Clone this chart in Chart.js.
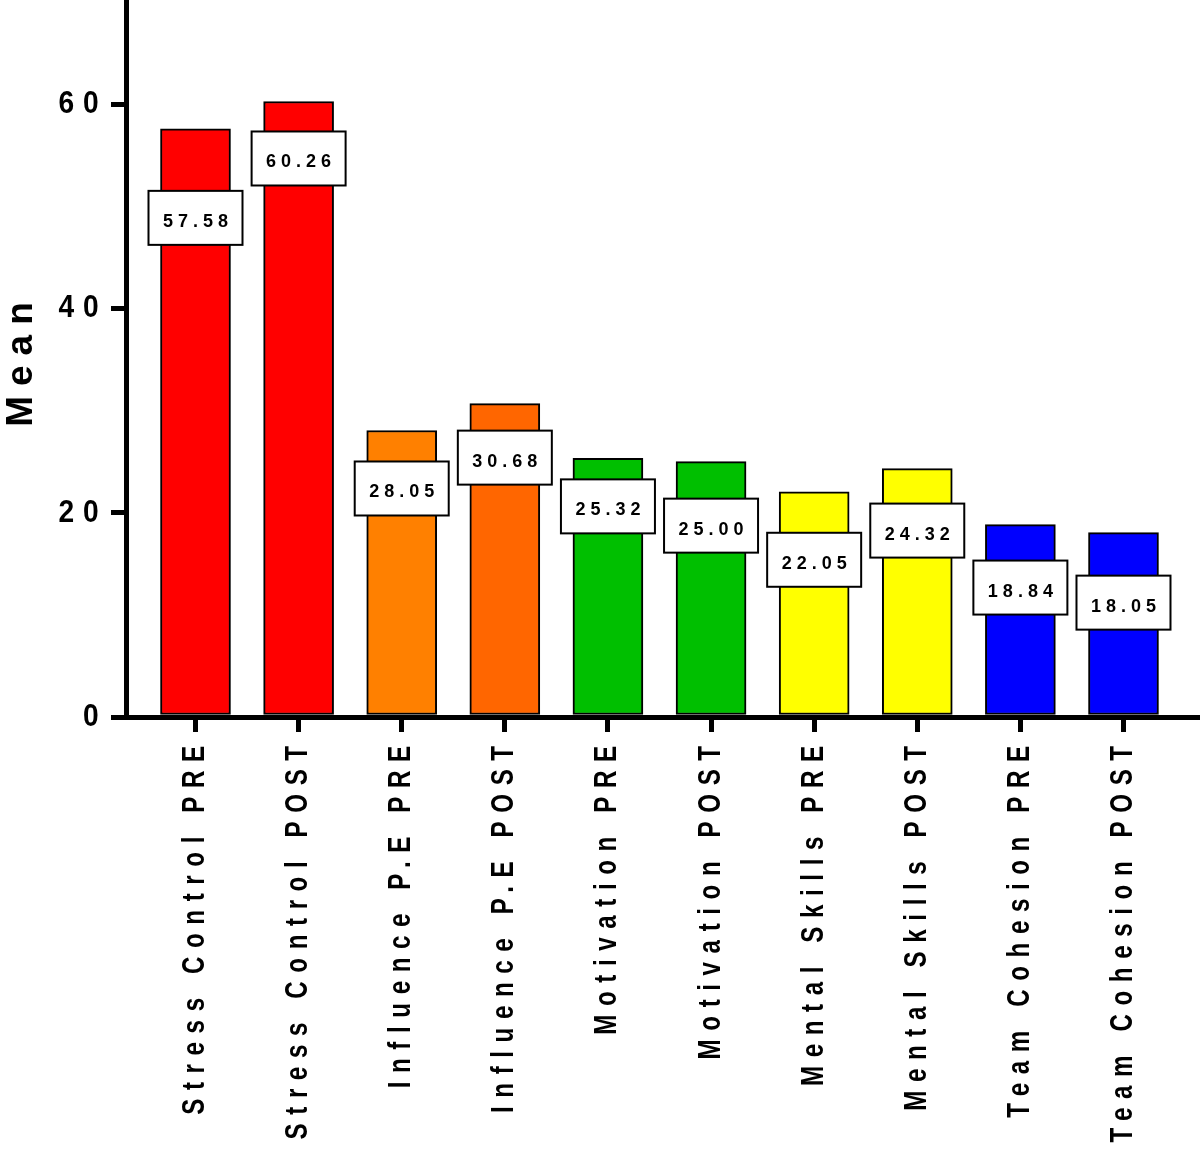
<!DOCTYPE html>
<html>
<head>
<meta charset="utf-8">
<script src="https://cdn.jsdelivr.net/npm/chart.js@4"></script>
<style>
  html, body { margin: 0; padding: 0; background: #fff; }
  #wrap { width: 1200px; height: 1163px; }
</style>
</head>
<body>
<div id="wrap"><canvas id="means"></canvas></div>
<script>
const categories = [
    'Stress Control PRE', 'Stress Control POST',
    'Influence P.E PRE', 'Influence P.E POST',
    'Motivation PRE', 'Motivation POST',
    'Mental Skills PRE', 'Mental Skills POST',
    'Team Cohesion PRE', 'Team Cohesion POST'
];
const means = [57.58, 60.26, 28.05, 30.68, 25.32, 25.00, 22.05, 24.32, 18.84, 18.05];
const valueLabels = ['57.58', '60.26', '28.05', '30.68', '25.32', '25.00', '22.05', '24.32', '18.84', '18.05'];
const yTicks = [0, 20, 40, 60];
const barColors = ['#ff0000', '#ff0000', '#ff8000', '#ff6600', '#00bf00', '#00bf00', '#ffff00', '#ffff00', '#0000ff', '#0000ff'];

// how far below each bar top its value box is centred (px)
const boxDrop = [89, 57, 58, 54, 48, 64, 68, 62, 63, 70];

const font = "'Liberation Sans', Arial, sans-serif";

// wrap a scale draw method: letter spacing + squeeze along the text direction
function squeezed(fn, gap, kx, ky, origin) {
    return function (...args) {
        const ctx = this.ctx;
        const o = origin(this);
        ctx.save();
        ctx.letterSpacing = gap;
        ctx.translate(o.x, o.y);
        ctx.scale(kx, ky);
        ctx.translate(-o.x, -o.y);
        fn.apply(this, args);
        ctx.restore();
    };
}

const textPlugin = {
    id: 'textStyle',
    beforeDraw(chart) {
        const { x, y } = chart.scales;
        if (!x._squeezed) {
            x._computeLabelArea = () => undefined; // no clip, the squeeze would shrink it
            x.drawLabels = squeezed(x.drawLabels, '11px', 1, 0.78, s => ({ x: 0, y: s.top }));
            x._squeezed = true;
        }
        if (!y._squeezed) {
            y.drawLabels = squeezed(y.drawLabels, '10px', 0.88, 1, s => ({ x: s.right, y: 0 }));
            y.drawTitle = squeezed(y.drawTitle, '10px', 1, 1, s => ({ x: 0, y: 0 }));
            y._squeezed = true;
        }
    }
};

const boxPlugin = {
    id: 'valueBoxes',
    afterDatasetsDraw(chart) {
        const ctx = chart.ctx;
        const bars = chart.getDatasetMeta(0).data;
        const w = 94, h = 54, gap = 5;
        ctx.save();
        ctx.font = 'bold 18px ' + font;
        ctx.letterSpacing = gap + 'px';
        ctx.textAlign = 'center';
        ctx.textBaseline = 'middle';
        bars.forEach((bar, i) => {
            const cy = bar.y + boxDrop[i];
            ctx.fillStyle = '#fff';
            ctx.fillRect(bar.x - w / 2, cy - h / 2, w, h);
            ctx.lineWidth = 2;
            ctx.strokeStyle = '#000';
            ctx.strokeRect(bar.x - w / 2, cy - h / 2, w, h);
            ctx.fillStyle = '#000';
            ctx.fillText(valueLabels[i], bar.x + gap / 2, cy + 4);
        });
        ctx.restore();
    }
};

const ctxMeans = document.getElementById('means').getContext('2d');
const meansChart = new Chart(ctxMeans, {
    type: 'bar',
    data: {
        datasets: [{
            data: means.map((v, i) => ({ x: i, y: v })),
            backgroundColor: barColors,
            borderColor: '#000',
            borderWidth: 2,
            borderSkipped: false,
            barThickness: 70
        }]
    },
    options: {
        responsive: true,
        maintainAspectRatio: false,
        animation: false,
        layout: { padding: { top: 2, left: 0, right: 0, bottom: 0 } },
        plugins: {
            legend: { display: false },
            tooltip: { enabled: false }
        },
        scales: {
            x: {
                type: 'linear',
                offset: false,
                min: -0.674,
                max: 9.742,
                afterBuildTicks: (scale) => { scale.ticks = categories.map((_, i) => ({ value: i })); },
                afterFit: (scale) => { scale.height = 446; scale.paddingLeft = 0; scale.paddingRight = 0; },
                border: { display: true, color: '#000', width: 5 },
                grid: { offset: false, drawOnChartArea: false, drawTicks: true, tickLength: 15, lineWidth: 5, color: '#000' },
                ticks: {
                    autoSkip: false,
                    minRotation: 90,
                    maxRotation: 90,
                    padding: 11,
                    color: '#000',
                    font: { family: font, size: 31, weight: 'bold' },
                    callback: (value) => categories[value]
                }
            },
            y: {
                min: 0,
                max: 70,
                afterBuildTicks: (scale) => { scale.ticks = yTicks.map(v => ({ value: v })); },
                afterFit: (scale) => { scale.width = 126; scale.paddingTop = 0; scale.paddingBottom = 0; },
                border: { display: true, color: '#000', width: 5 },
                grid: { drawOnChartArea: false, drawTicks: true, tickLength: 15, lineWidth: 5, color: '#000' },
                ticks: {
                    padding: 6,
                    color: '#000',
                    font: { family: font, size: 32, weight: 'bold' }
                },
                title: {
                    display: true,
                    text: 'Mean',
                    color: '#000',
                    padding: 0,
                    font: { family: font, size: 37, weight: 'bold' }
                }
            }
        }
    },
    plugins: [textPlugin, boxPlugin]
});
</script>
</body>
</html>
